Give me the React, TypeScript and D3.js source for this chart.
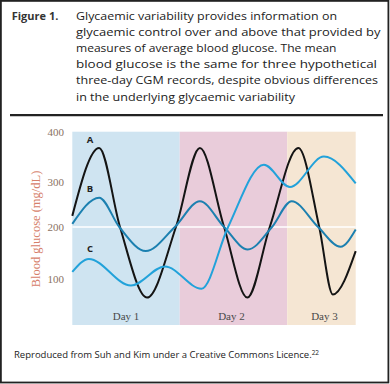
import React from "react";
import * as d3 from "d3";

// ---- data (hours from start, blood glucose mg/dL) ----
const seriesA: [number, number][] = [
  [0, 225], [6.0, 368], [10.65, 200], [16.7, 65], [23.15, 200], [28.5, 368],
  [33.9, 200], [39.1, 65], [44.1, 200], [50.5, 368], [55.15, 200], [58.2, 71], [63.3, 154],
];
const seriesB: [number, number][] = [
  [0, 207], [6.0, 266], [10.5, 200], [16.4, 154], [22.9, 200], [28.5, 258],
  [33.9, 200], [39.2, 157], [44.6, 200], [49.0, 258], [54.9, 200], [59.9, 162], [63.3, 195],
];
const seriesC: [number, number][] = [
  [0, 114], [3.7, 139], [13.1, 88], [20.7, 124.5], [28.85, 82], [34.8, 200],
  [42.8, 335], [48.6, 290], [56.2, 351], [63.3, 298],
];
const dayNames = ["Day 1", "Day 2", "Day 3"];
const dayStarts = [0, 24, 48];
const dayEnds = [24, 48, 63.3];
const yTicks = [100, 200, 300, 400];
const seriesLabels = ["A", "B", "C"];
const seriesLabelValues = [385, 287, 158];

const titleLead = "Figure 1.";
const titleLines = [
  "Glycaemic variability provides information on",
  "glycaemic control over and above that provided by",
  "measures of average blood glucose. The mean",
  "blood glucose is the same for three hypothetical",
  "three-day CGM records, despite obvious differences",
  "in the underlying glycaemic variability",
];
const footnote = "Reproduced from Suh and Kim under a Creative Commons Licence.";
const footnoteSup = "22";

// ---- layout ----
const W = 390;
const H = 384;
const plotLeft = 72.3;
const plotRight = 355.7;
const plotBottom = 325;
const titleLineWidths = [261, 304.5, 260.5, 301, 302, 219];
const dayLabelShift = [0, -2, 3];

const dayColors = ["#cfe4f1", "#e9ccda", "#f5e6d3"];
const lineColors = ["#141414", "#1c80b0", "#22a2da"];

export default function App() {
  const x = d3.scaleLinear().domain([0, 63.3]).range([plotLeft, plotRight]);
  const y = d3
    .scaleLinear()
    .domain([0, 100, 200, 300, 400])
    .range([331.6, 279.3, 227, 182.5, 131.7]);
  const line = d3
    .line<[number, number]>()
    .x((d) => x(d[0]))
    .y((d) => y(d[1]))
    .curve(d3.curveMonotoneX);
  const all = [seriesA, seriesB, seriesC];
  const sans = "'Open Sans', 'Noto Sans', sans-serif";
  const serif = "'Liberation Serif', 'DejaVu Serif', serif";

  return (
    <svg
      width={W}
      height={H}
      style={{ position: "fixed", left: 0, top: 0, background: "#fff" }}
    >
      <rect x={0} y={0} width={W} height={H} fill="#fff" />
      <rect x={0.9} y={0.9} width={387.5} height={381.6} fill="none" stroke="#222" strokeWidth={1.8} />

      {/* title */}
      <text x={11.7} y={19.5} fontFamily={sans} fontSize={11} fontWeight="bold" fill="#333">
        {titleLead}
      </text>
      {titleLines.map((t, i) => (
        <text
          key={i}
          x={76}
          y={19.5 + i * 16.2}
          fontFamily={sans}
          fontSize={11.4}
          fill="#222"
          textLength={titleLineWidths[i]}
          lengthAdjust="spacingAndGlyphs"
        >
          {t}
        </text>
      ))}
      <line x1={10} x2={383} y1={115.2} y2={115.2} stroke="#222" strokeWidth={2.3} />

      {/* day bands */}
      {dayNames.map((d, i) => (
        <rect
          key={d}
          x={x(dayStarts[i])}
          y={y(400)}
          width={x(dayEnds[i]) - x(dayStarts[i])}
          height={plotBottom - y(400)}
          fill={dayColors[i]}
        />
      ))}
      <line x1={plotLeft} x2={plotRight} y1={y(200)} y2={y(200)} stroke="#fff" strokeWidth={1.5} />
      {dayNames.map((d, i) => (
        <text
          key={d}
          x={(x(dayStarts[i]) + x(dayEnds[i])) / 2 + dayLabelShift[i]}
          y={320}
          textAnchor="middle"
          fontFamily={serif}
          fontSize={11}
          fill="#4a4a4a"
        >
          {d}
        </text>
      ))}

      {/* y axis */}
      {yTicks.map((t) => (
        <text
          key={t}
          x={64}
          y={y(t)}
          dy="0.35em"
          textAnchor="end"
          fontFamily={serif}
          fontSize={11}
          fill="#8a7263"
        >
          {t}
        </text>
      ))}
      <text
        transform={`translate(36,${229}) rotate(-90)`}
        textAnchor="middle"
        dy="0.35em"
        fontFamily={serif}
        fontSize={12.5}
        fill="#d6806a"
      >
        Blood glucose (mg/dL)
      </text>

      {/* series */}
      {all.map((s, i) => (
        <path key={i} d={line(s) || ""} fill="none" stroke={lineColors[i]} strokeWidth={2} />
      ))}
      {seriesLabels.map((l, i) => (
        <text
          key={l}
          x={x(3.95)}
          y={y(seriesLabelValues[i])}
          dy="0.35em"
          textAnchor="middle"
          fontFamily={sans}
          fontWeight="bold"
          fontSize={9.5}
          fill="#222"
        >
          {l}
        </text>
      ))}

      {/* footnote */}
      <text x={14} y={358.3} fontFamily={sans} fontSize={9.5} fill="#222">
        {footnote}
        <tspan fontSize={6.5} dy={-3.5}>
          {footnoteSup}
        </tspan>
      </text>
    </svg>
  );
}
